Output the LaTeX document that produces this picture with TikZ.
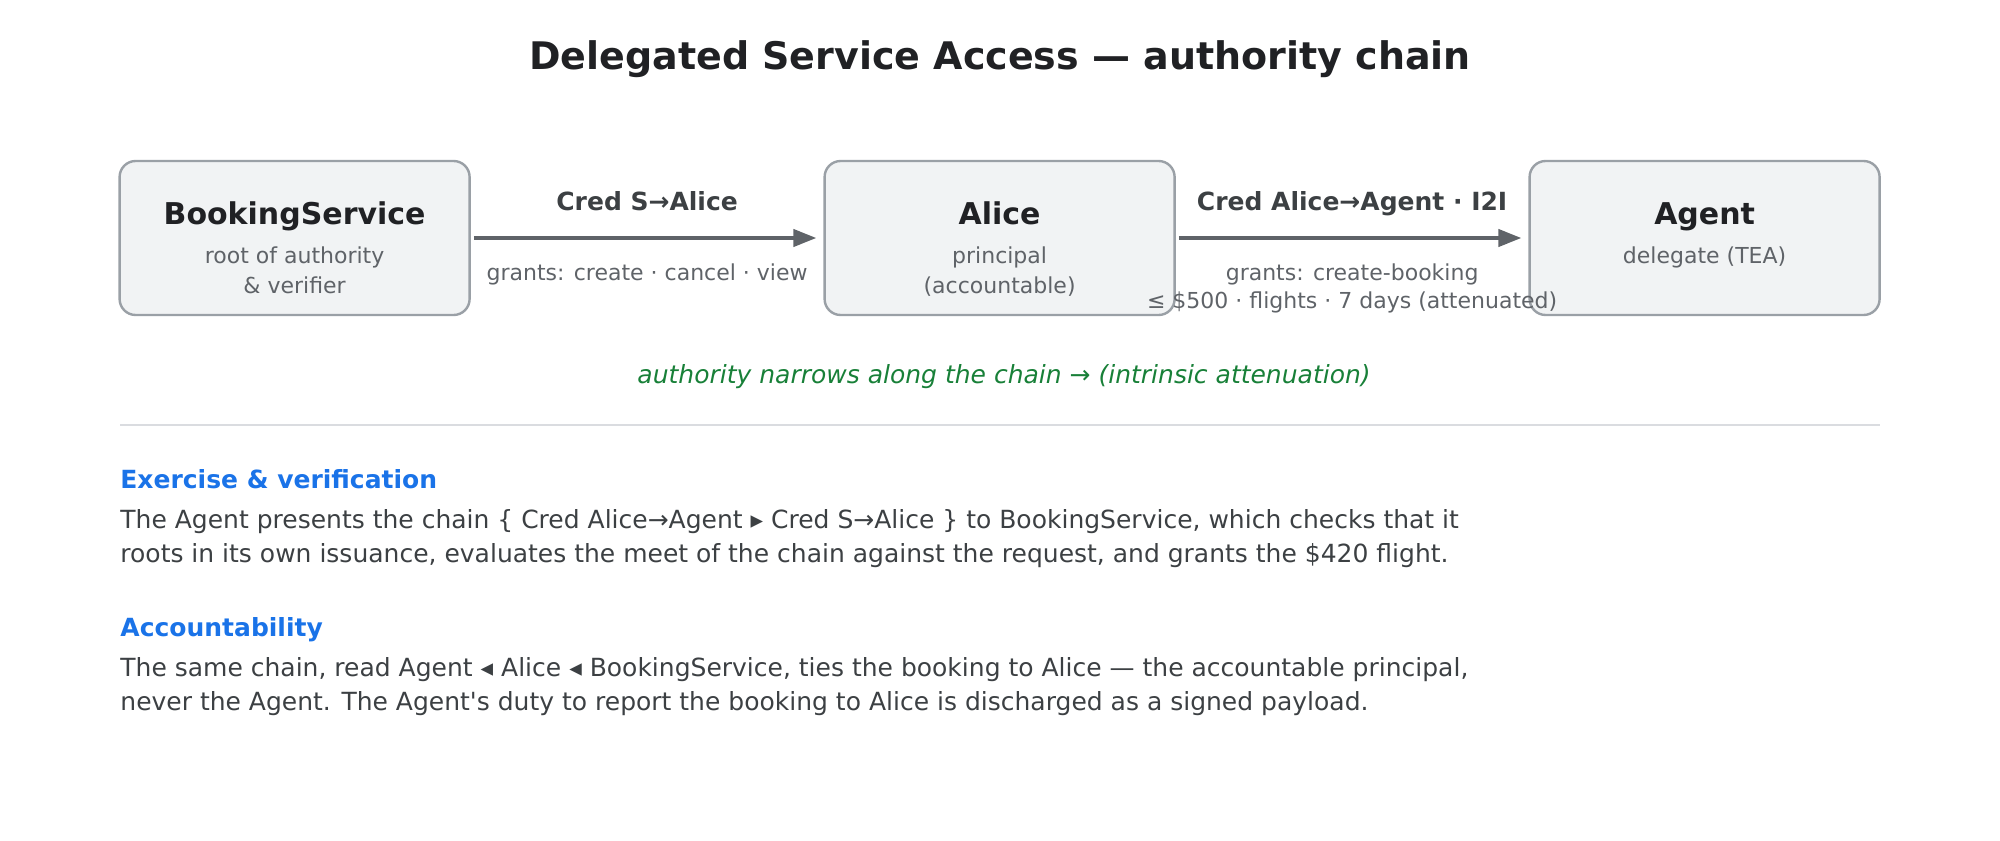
\documentclass[tikz,border=0pt]{standalone}
\usepackage{fontspec}
\setmainfont{DejaVu Sans}
\usetikzlibrary{arrows.meta,positioning}
\definecolor{boxfill}{HTML}{F1F3F4}
\definecolor{boxline}{HTML}{9AA0A6}
\definecolor{inkdark}{HTML}{202124}
\definecolor{inkgrey}{HTML}{5F6368}
\definecolor{inkmid}{HTML}{3C4043}
\definecolor{narrowgreen}{HTML}{188038}
\definecolor{headblue}{HTML}{1A73E8}
\definecolor{rulegrey}{HTML}{DADCE0}
\tikzset{%
	>={Triangle[width=8.5pt,length=11.5pt]},
	% Specifications for style of nodes:
	party/.style = {rectangle, rounded corners=8pt, draw=boxline, line width=1.2pt,
		fill=boxfill, minimum width=175pt, minimum height=77pt},
	partyName/.style = {anchor=base, inner sep=0pt, text=inkdark,
		font=\fontsize{15}{18}\selectfont\bfseries},
	partyRole/.style = {anchor=base, inner sep=0pt, text=inkgrey,
		font=\fontsize{11}{13}\selectfont},
	credName/.style = {anchor=base, inner sep=0pt, text=inkmid,
		font=\fontsize{12.5}{15}\selectfont\bfseries},
	credGrant/.style = {partyRole},
	flow/.style = {->, draw=inkgrey, line width=2pt, shorten <=1.5pt, shorten >=3.5pt},
	sectionHead/.style = {anchor=base west, inner sep=0pt, text=headblue,
		font=\fontsize{12.5}{15}\selectfont\bfseries},
	bodyLine/.style = {anchor=base west, inner sep=0pt, text=inkmid,
		font=\fontsize{12.5}{15}\selectfont},
}
\begin{document}
\begin{tikzpicture}[x=1pt, y=-1pt, node distance=176.3pt]
	\useasboundingbox (0,0) rectangle (1000,420);

	\node (title) [anchor=base, text=inkdark, font=\fontsize{19}{23}\selectfont\bfseries]
		at (500,34.5) {Delegated Service Access — authority chain};

	% Specification of nodes (position, etc.)
	\node (booking) [party] at (147.3,119) {};
	\node (alice)   [party, right=of booking] {};
	\node (agent)   [party, right=of alice] {};

	\node (bookingName) [partyName] at ([yshift=-32.5pt]booking.north) {BookingService};
	\node (bookingRole) [partyRole] at ([yshift=-51.8pt]booking.north) {root of authority};
	\node (bookingRole2) [partyRole] at ([yshift=-66.8pt]booking.north) {\& verifier};

	\node (aliceName) [partyName] at ([yshift=-32.5pt]alice.north) {Alice};
	\node (aliceRole) [partyRole] at ([yshift=-51.8pt]alice.north) {principal};
	\node (aliceRole2) [partyRole] at ([yshift=-66.8pt]alice.north) {(accountable)};

	\node (agentName) [partyName] at ([yshift=-32.5pt]agent.north) {Agent};
	\node (agentRole) [partyRole] at ([yshift=-51.8pt]agent.north) {delegate (TEA)};

	% credentials along the chain
	\draw[flow] (booking) -- (alice)
		node (credSA) [credName, midway, yshift=13.8pt] {Cred S→Alice}
		node (grantSA) [credGrant, midway, yshift=-21pt] {grants: create · cancel · view};

	\draw[flow] (alice) -- (agent)
		node (credAA) [credName, midway, yshift=13.8pt] {Cred Alice→Agent · I2I}
		node (grantAA) [credGrant, midway, yshift=-21pt] {grants: create-booking}
		node (grantAA2) [credGrant, midway, yshift=-35pt] {≤ \$500 · flights · 7 days (attenuated)};

	\node (narrowing) [anchor=base, text=narrowgreen, font=\fontsize{12.5}{15}\selectfont\itshape]
		at (502,191.7) {authority narrows along the chain → (intrinsic attenuation)};

	\coordinate (ruleL) at (60,212.5);
	\coordinate (ruleR) at (940,212.5);
	\draw[rulegrey, line width=1.2pt] (ruleL) -- (ruleR);

	% text sections
	\node (exerciseHead) [sectionHead] at (60,244.2) {Exercise \& verification};
	\node (exerciseL1) [bodyLine] at (60,264.2) {The Agent presents the chain \{ Cred Alice→Agent ▸ Cred S→Alice \} to BookingService, which checks that it};
	\node (exerciseL2) [bodyLine] at (60,281.2) {roots in its own issuance, evaluates the meet of the chain against the request, and grants the \$420 flight.};

	\node (accountHead) [sectionHead] at (60,318.4) {Accountability};
	\node (accountL1) [bodyLine] at (60,338.4) {The same chain, read Agent ◂ Alice ◂ BookingService, ties the booking to Alice — the accountable principal,};
	\node (accountL2) [bodyLine] at (60,355.4) {never the Agent. The Agent\textquotesingle s duty to report the booking to Alice is discharged as a signed payload.};

\end{tikzpicture}
\end{document}
